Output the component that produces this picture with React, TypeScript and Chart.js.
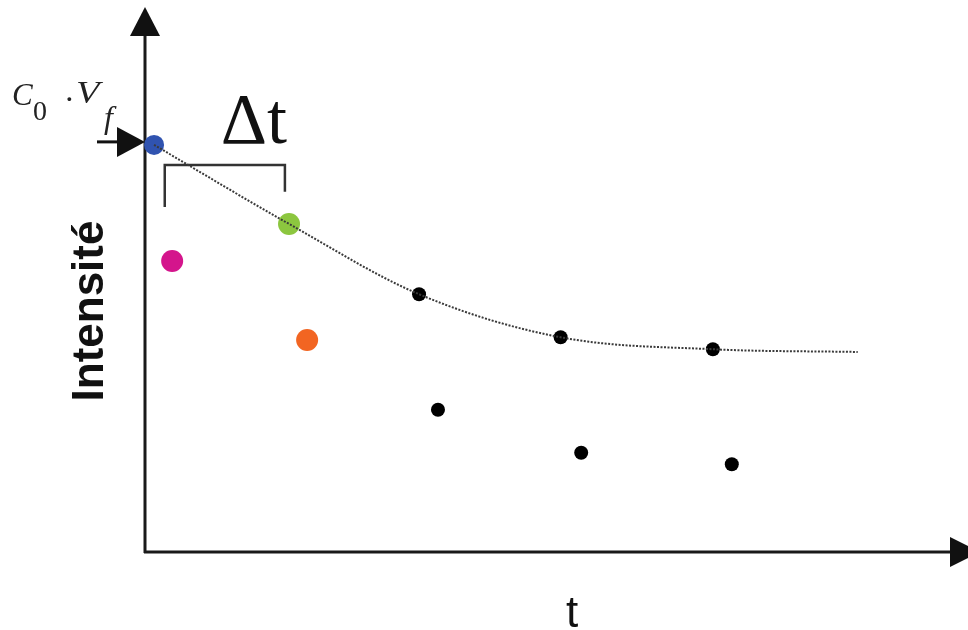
import React, { useEffect, useRef } from "react";
import { Chart, registerables } from "chart.js";

Chart.register(...registerables);

// ---- data (x: time units, y: intensity units, axes 0..100) ----
const bluePoint = [{ x: 1.1, y: 74.7 }];
const greenPoint = [{ x: 17.5, y: 60.2 }];
const magentaPoint = [{ x: 3.3, y: 53.4 }];
const orangePoint = [{ x: 19.7, y: 38.9 }];
const upperBlack = [
  { x: 33.3, y: 47.3 },
  { x: 50.5, y: 39.4 },
  { x: 69.0, y: 37.2 },
];
const lowerBlack = [
  { x: 35.6, y: 26.1 },
  { x: 53.0, y: 18.2 },
  { x: 71.3, y: 16.1 },
];
const fitCurve = [
  { x: 1.1, y: 74.7 },
  { x: 17.5, y: 60.2 },
  { x: 33.3, y: 47.3 },
  { x: 50.5, y: 39.4 },
  { x: 69.0, y: 37.2 },
  { x: 86.6, y: 36.7 },
];
const deltaBracket = [
  { x: 2.4, y: 63.3 },
  { x: 2.4, y: 71.0 },
  { x: 17.0, y: 71.0 },
  { x: 17.0, y: 66.1 },
];
const deltaLabelPos = { x: 9.2, y: 75.0 };
const deltaLabel = "Δt";
const yTitle = "Intensité";
const xTitle = "t";

const overlay = {
  id: "overlay",
  beforeDatasetsDraw(chart: any) {
    const { ctx, chartArea } = chart;
    const x0 = chartArea.left;
    const y0 = chartArea.bottom;
    ctx.save();
    ctx.strokeStyle = "#1a1a1a";
    ctx.fillStyle = "#111";
    ctx.lineWidth = 3;
    // y axis
    ctx.beginPath();
    ctx.moveTo(x0, y0 + 1);
    ctx.lineTo(x0, chartArea.top + 28);
    ctx.stroke();
    ctx.beginPath();
    ctx.moveTo(x0, chartArea.top);
    ctx.lineTo(x0 - 15, chartArea.top + 29);
    ctx.lineTo(x0 + 15, chartArea.top + 29);
    ctx.closePath();
    ctx.fill();
    // x axis
    ctx.beginPath();
    ctx.moveTo(x0 - 1, y0);
    ctx.lineTo(952, y0);
    ctx.stroke();
    ctx.beginPath();
    ctx.moveTo(980, y0);
    ctx.lineTo(950, y0 - 15);
    ctx.lineTo(950, y0 + 15);
    ctx.closePath();
    ctx.fill();
    ctx.restore();
  },
  afterDatasetsDraw(chart: any) {
    const { ctx, scales, chartArea } = chart;
    const xs = scales.x;
    const ys = scales.y;
    ctx.save();
    // arrow pointing to the start value
    const ay = ys.getPixelForValue(bluePoint[0].y) - 3;
    const tipX = chartArea.left;
    ctx.strokeStyle = "#111";
    ctx.fillStyle = "#111";
    ctx.lineWidth = 3;
    ctx.beginPath();
    ctx.moveTo(97, ay);
    ctx.lineTo(tipX - 26, ay);
    ctx.stroke();
    ctx.beginPath();
    ctx.moveTo(tipX, ay);
    ctx.lineTo(tipX - 28, ay - 15);
    ctx.lineTo(tipX - 28, ay + 15);
    ctx.closePath();
    ctx.fill();

    // C0 · Vf label
    ctx.fillStyle = "#222";
    ctx.textBaseline = "alphabetic";
    ctx.textAlign = "left";
    ctx.font = "italic 31px 'Liberation Serif', serif";
    ctx.fillText("C", 12, 105);
    ctx.font = "28px 'Liberation Serif', serif";
    ctx.fillText("0", 33, 120);
    ctx.font = "32px 'Liberation Serif', serif";
    ctx.fillText("·", 64, 110);
    ctx.save();
    ctx.translate(76, 103);
    ctx.scale(1.2, 1);
    ctx.font = "italic 32px 'Liberation Serif', serif";
    ctx.fillText("V", 0, 0);
    ctx.restore();
    ctx.font = "italic 32px 'Liberation Serif', serif";
    ctx.fillText("f", 104, 128);

    // Δt label
    ctx.fillStyle = "#111";
    ctx.font = "72px 'Liberation Serif', serif";
    ctx.textAlign = "left";
    ctx.fillText(deltaLabel, xs.getPixelForValue(deltaLabelPos.x), ys.getPixelForValue(deltaLabelPos.y));

    // axis titles
    ctx.font = "bold 44px 'Liberation Sans', Arial, sans-serif";
    ctx.save();
    ctx.translate(103, 311);
    ctx.rotate(-Math.PI / 2);
    ctx.textAlign = "center";
    ctx.fillText(yTitle, 0, 0);
    ctx.restore();
    ctx.font = "44px 'Liberation Sans', Arial, sans-serif";
    ctx.textAlign = "center";
    ctx.fillText(xTitle, 572, 627);
    ctx.restore();
  },
};

export default function App() {
  const ref = useRef<HTMLCanvasElement | null>(null);
  useEffect(() => {
    document.body.style.margin = "0";
    const canvas = ref.current;
    if (!canvas) return;
    const pt = (data: any, color: string, r: number, order: number) => ({
      type: "scatter" as const,
      data,
      backgroundColor: color,
      borderColor: color,
      pointRadius: r,
      pointHoverRadius: r,
      borderWidth: 0,
      clip: false,
      order,
    });
    const chart = new Chart(canvas, {
      type: "scatter",
      data: {
        datasets: [
          {
            type: "line",
            data: fitCurve,
            borderColor: "#3a3a3a",
            borderWidth: 2,
            borderDash: [2, 1.5],
            pointRadius: 0,
            cubicInterpolationMode: "monotone",
            fill: false,
            clip: false,
            order: 0,
          } as any,
          {
            type: "line",
            data: deltaBracket,
            borderColor: "#333",
            borderWidth: 2.5,
            pointRadius: 0,
            tension: 0,
            fill: false,
            clip: false,
            order: 1,
          } as any,
          pt(bluePoint, "#3053b0", 10, 2),
          pt(greenPoint, "#8cc63f", 11, 3),
          pt(magentaPoint, "#d4158c", 11, 4),
          pt(orangePoint, "#f26522", 11, 5),
          pt(upperBlack, "#000", 7, 6),
          pt(lowerBlack, "#000", 7, 7),
        ],
      },
      options: {
        responsive: false,
        animation: false,
        layout: { autoPadding: false, padding: { left: 145, top: 7, right: 0, bottom: 78 } },
        plugins: { legend: { display: false }, tooltip: { enabled: false } },
        scales: {
          x: { type: "linear", min: 0, max: 100, display: false },
          y: { type: "linear", min: 0, max: 100, display: false },
        },
        events: [],
      },
      plugins: [overlay],
    });
    return () => chart.destroy();
  }, []);
  return (
    <div style={{ width: 968, height: 630, background: "#fff" }}>
      <canvas ref={ref} width={968} height={630} style={{ display: "block" }} />
    </div>
  );
}
